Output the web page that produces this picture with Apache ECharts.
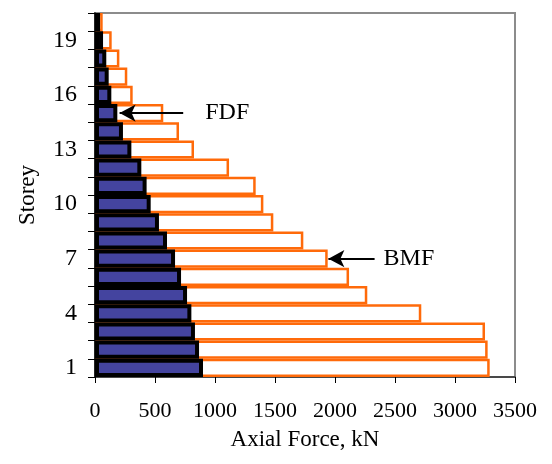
<!DOCTYPE html>
<html>
<head>
<meta charset="utf-8">
<script src="https://cdn.jsdelivr.net/npm/echarts@6/dist/echarts.min.js"></script>
<style>html,body{margin:0;padding:0;background:#fff;}#c{width:552px;height:464px;}</style>
</head>
<body>
<div id="c"></div>
<script>
// Data
var storeys = ['1','2','3','4','5','6','7','8','9','10','11','12','13','14','15','16','17','18','19','20'];
var bmf = [3289, 3272, 3250, 2719, 2269, 2117, 1939, 1736, 1486, 1403, 1339, 1117, 825, 700, 569, 314, 269, 203, 139, 64];
var fdf = [900, 867, 833, 803, 767, 717, 667, 600, 533, 464, 430, 386, 303, 233, 186, 136, 114, 94, 67, 42];
var xTicks = [0, 500, 1000, 1500, 2000, 2500, 3000, 3500];
// Annotation arrows (data units): [from, to, storey]
var fdfArrow = [735, 205, '15'];
var bmfArrow = [2330, 1945, '7'];

var font = 'Liberation Serif';
var chart = echarts.init(document.getElementById('c'), null, {renderer: 'canvas'});
chart.setOption({
  animation: false,
  backgroundColor: '#fff',
  grid: {left: 95, right: 37, top: 13, bottom: 87, show: true, borderColor: '#8c8c8c', borderWidth: 2, backgroundColor: 'transparent'},
  xAxis: {
    type: 'value', min: xTicks[0], max: xTicks[xTicks.length - 1], interval: 500,
    name: 'Axial Force, kN', nameLocation: 'middle', nameGap: 51,
    nameTextStyle: {fontFamily: font, fontSize: 23, color: '#000'},
    axisLine: {show: true, lineStyle: {color: '#333', width: 1.5}},
    axisTick: {show: true, length: 6, lineStyle: {color: '#000', width: 1}},
    axisLabel: {fontFamily: font, fontSize: 22, color: '#000', margin: 23, formatter: function (v) { return String(v); }},
    splitLine: {show: false}
  },
  yAxis: {
    type: 'category', data: storeys,
    name: 'Storey', nameLocation: 'middle', nameGap: 56,
    nameTextStyle: {fontFamily: font, fontSize: 23, color: '#000'},
    axisLine: {show: true, lineStyle: {color: '#000', width: 1.5}},
    axisTick: {show: true, length: 7, interval: 0, lineStyle: {color: '#000', width: 1}},
    axisLabel: {fontFamily: font, fontSize: 24, color: '#000', margin: 18, interval: 2},
    splitLine: {show: false}
  },
  series: [
    {
      name: 'BMF', type: 'bar', data: bmf, barCategoryGap: '0%', barGap: '-100%', z: 2,
      itemStyle: {color: '#ffffff', borderColor: '#ff6a0a', borderWidth: 2.5},
      markLine: {
        silent: true, symbol: ['none', 'arrow'], symbolSize: [13, 16], precision: 0,
        lineStyle: {color: '#000', width: 2, type: 'solid'},
        label: {show: true, position: 'start', formatter: 'BMF', fontFamily: font, fontSize: 24, color: '#000', distance: 9},
        data: [[{coord: [bmfArrow[0], bmfArrow[2]]}, {coord: [bmfArrow[1], bmfArrow[2]]}]]
      }
    },
    {
      name: 'FDF', type: 'bar', data: fdf, barCategoryGap: '0%', barGap: '-100%', z: 3,
      itemStyle: {color: '#44449f', borderColor: '#000', borderWidth: 4},
      markLine: {
        silent: true, symbol: ['none', 'arrow'], symbolSize: [13, 16], precision: 0,
        lineStyle: {color: '#000', width: 2, type: 'solid'},
        label: {show: true, position: 'start', formatter: 'FDF', fontFamily: font, fontSize: 24, color: '#000', distance: 22},
        data: [[{coord: [fdfArrow[0], fdfArrow[2]]}, {coord: [fdfArrow[1], fdfArrow[2]]}]]
      }
    }
  ]
});
</script>
</body>
</html>
